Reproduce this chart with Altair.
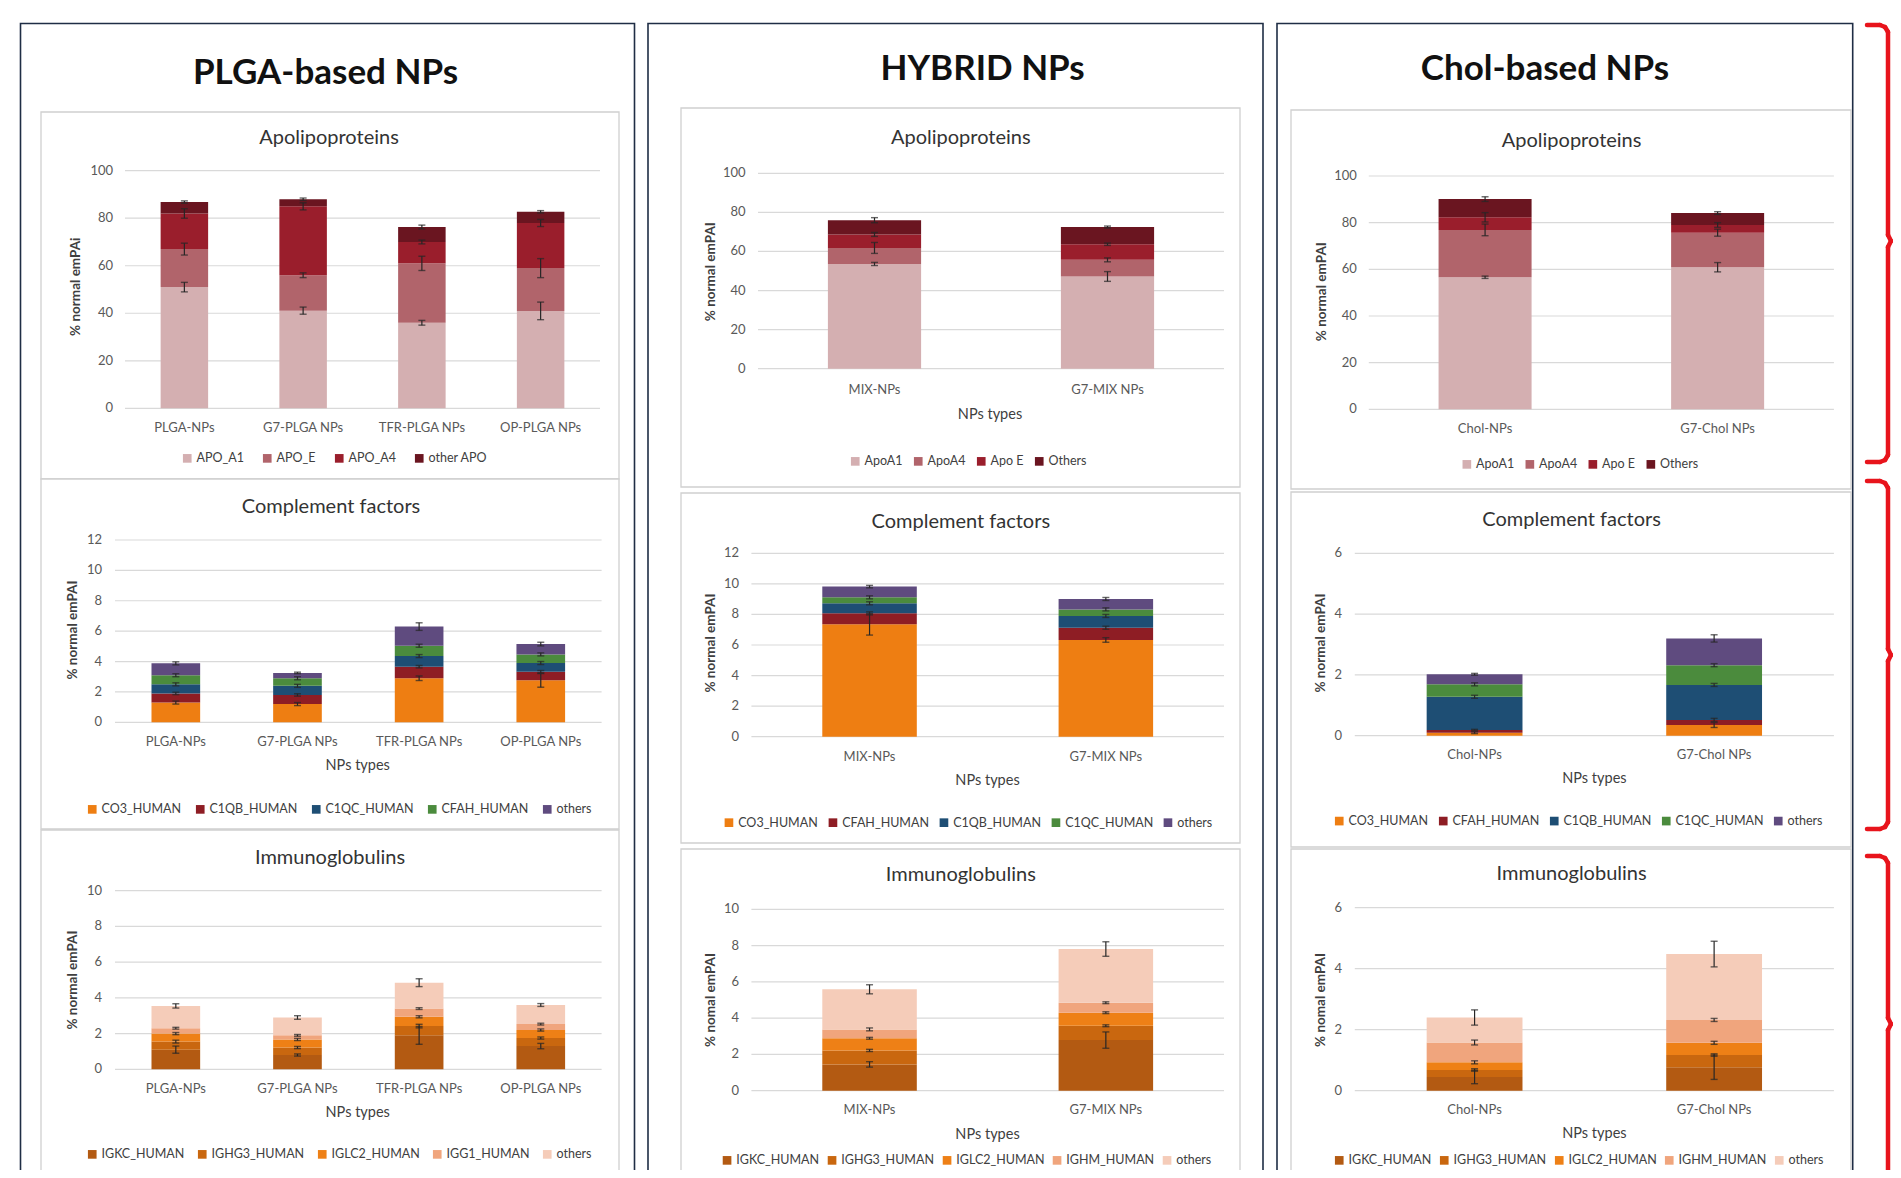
import altair as alt
import pandas as pd

# ---------------- data ----------------
PLGA_CATS = ["PLGA-NPs", "G7-PLGA NPs", "TFR-PLGA NPs", "OP-PLGA NPs"]
HYB_CATS = ["MIX-NPs", "G7-MIX NPs"]
CHOL_CATS = ["Chol-NPs", "G7-Chol NPs"]

PLGA_APO_SERIES = ["APO_A1", "APO_E", "APO_A4", "other APO"]
PLGA_APO_VALUES = [[51.0, 41.1, 36.0, 41.0], [16.0, 14.9, 25.0, 18.0], [15.0, 29.0, 9.0, 19.0], [4.8, 3.0, 6.3, 4.7]]
PLGA_APO_ERRORS = [[2.0, 1.5, 1.0, 3.7], [2.5, 1.0, 3.0, 4.0], [2.0, 1.5, 0.8, 1.5], [0.5, 0.5, 0.8, 0.5]]

PLGA_COMP_SERIES = ["CO3_HUMAN", "C1QB_HUMAN", "C1QC_HUMAN", "CFAH_HUMAN", "others"]
PLGA_COMP_VALUES = [[1.3, 1.2, 2.9, 2.76], [0.6, 0.6, 0.76, 0.57], [0.6, 0.6, 0.7, 0.57], [0.6, 0.5, 0.68, 0.57], [0.78, 0.35, 1.26, 0.68]]
PLGA_COMP_ERRORS = [[0.1, 0.1, 0.15, 0.45], [0.08, 0.08, 0.08, 0.08], [0.1, 0.1, 0.1, 0.1], [0.1, 0.1, 0.1, 0.1], [0.1, 0.05, 0.25, 0.12]]

PLGA_IMM_SERIES = ["IGKC_HUMAN", "IGHG3_HUMAN", "IGLC2_HUMAN", "IGG1_HUMAN", "others"]
PLGA_IMM_VALUES = [[1.1, 0.8, 1.9, 1.3], [0.45, 0.42, 0.52, 0.45], [0.45, 0.45, 0.52, 0.45], [0.3, 0.23, 0.46, 0.33], [1.25, 1.0, 1.45, 1.07]]
PLGA_IMM_ERRORS = [[0.2, 0.06, 0.5, 0.15], [0.08, 0.06, 0.1, 0.06], [0.06, 0.06, 0.06, 0.06], [0.05, 0.05, 0.05, 0.05], [0.12, 0.1, 0.22, 0.08]]

HYB_APO_SERIES = ["ApoA1", "ApoA4", "Apo E", "Others"]
HYB_APO_VALUES = [[53.6, 47.2], [8.2, 8.5], [6.9, 8.0], [7.3, 8.8]]
HYB_APO_ERRORS = [[0.8, 2.5], [2.8, 1.0], [1.0, 0.6], [1.3, 0.5]]

HYB_COMP_SERIES = ["CO3_HUMAN", "CFAH_HUMAN", "C1QB_HUMAN", "C1QC_HUMAN", "others"]
HYB_COMP_VALUES = [[7.35, 6.33], [0.72, 0.8], [0.66, 0.77], [0.39, 0.43], [0.7, 0.68]]
HYB_COMP_ERRORS = [[0.7, 0.15], [0.1, 0.1], [0.1, 0.1], [0.1, 0.1], [0.08, 0.1]]

HYB_IMM_SERIES = ["IGKC_HUMAN", "IGHG3_HUMAN", "IGLC2_HUMAN", "IGHM_HUMAN", "others"]
HYB_IMM_VALUES = [[1.45, 2.79], [0.77, 0.79], [0.67, 0.72], [0.49, 0.55], [2.21, 2.96]]
HYB_IMM_ERRORS = [[0.15, 0.45], [0.06, 0.05], [0.05, 0.05], [0.08, 0.05], [0.25, 0.4]]

CHOL_APO_SERIES = ["ApoA1", "ApoA4", "Apo E", "Others"]
CHOL_APO_VALUES = [[56.6, 60.9], [20.3, 14.8], [5.4, 3.3], [7.8, 5.1]]
CHOL_APO_ERRORS = [[0.5, 2.0], [2.5, 1.5], [2.0, 1.0], [1.0, 0.6]]

CHOL_COMP_SERIES = ["CO3_HUMAN", "CFAH_HUMAN", "C1QB_HUMAN", "C1QC_HUMAN", "others"]
CHOL_COMP_VALUES = [[0.1, 0.35], [0.09, 0.17], [1.09, 1.15], [0.41, 0.65], [0.33, 0.88]]
CHOL_COMP_ERRORS = [[0.03, 0.08], [0.02, 0.05], [0.05, 0.05], [0.05, 0.05], [0.03, 0.12]]

CHOL_IMM_SERIES = ["IGKC_HUMAN", "IGHG3_HUMAN", "IGLC2_HUMAN", "IGHM_HUMAN", "others"]
CHOL_IMM_VALUES = [[0.45, 0.77], [0.23, 0.4], [0.25, 0.4], [0.65, 0.75], [0.82, 2.16]]
CHOL_IMM_ERRORS = [[0.22, 0.4], [0.04, 0.04], [0.05, 0.05], [0.08, 0.05], [0.25, 0.42]]

COLUMN_TITLES = ["PLGA-based NPs", "HYBRID NPs", "Chol-based NPs"]

# ---------------- styles ----------------
APO_COLORS = ["#D4AFB1", "#B1646B", "#9A1E2C", "#6A1520"]
COMP_COLORS = ["#EE7E12", "#8E1D24", "#1E4E74", "#4B8B3D", "#5F4B7F"]
IMM_COLORS = ["#B35A12", "#C9670F", "#EE8016", "#F0A57D", "#F5CCB9"]
FONT = "Lato"
GRID = "#D9D9D9"
TICK = "#595959"
DARK = "#333333"
ERR = "#262626"
BOX = "#D0D0D0"
COLBORDER = "#1F2D45"
RED = "#E8141C"


def P(v):
    return v - 8


def segments(cats, series, values, errors):
    rows = []
    for ci, c in enumerate(cats):
        base = 0.0
        for si, s in enumerate(series):
            v = values[si][ci]
            e = errors[si][ci]
            top = base + v
            rows.append(dict(cat=c, series=s, idx=si, base=base, top=top, lo=top - e, hi=top + e))
            base = top
    return pd.DataFrame(rows)


ONE = pd.DataFrame({"a": [0]})


def text_layer(txt, x, y, size, weight="normal", color=DARK, angle=0, align="center", baseline="middle"):
    return alt.Chart(ONE).mark_text(font=FONT, fontSize=size, fontWeight=weight, color=color,
                                    angle=angle, align=align, baseline=baseline).encode(
        x=alt.value(P(x)), y=alt.value(P(y)), text=alt.value(txt))


def rect_layer(x0, y0, x1, y1, stroke, sw, fill="white"):
    return alt.Chart(ONE).mark_rect(fill=fill, stroke=stroke, strokeWidth=sw).encode(
        x=alt.value(P(x0)), x2=alt.value(P(x1)), y=alt.value(P(y0)), y2=alt.value(P(y1)))


def seg_layer(x0, y0, x1, y1):
    return alt.Chart(ONE).mark_rule(color=RED, strokeWidth=4.5, strokeCap="round").encode(
        x=alt.value(P(x0)), x2=alt.value(P(x1)), y=alt.value(P(y0)), y2=alt.value(P(y1)))


def panel(cats, series, values, errors, colors, ymax, ystep, g, title, ytitle, xtitle, pad):
    seg = segments(cats, series, values, errors)
    caps = pd.concat([seg.assign(c=seg["lo"]), seg.assign(c=seg["hi"])], ignore_index=True)
    ticks = pd.DataFrame({"v": list(range(0, ymax + 1, ystep))})
    ticks["lab"] = ticks["v"].astype(str)
    cats_df = pd.DataFrame({"cat": cats})
    xs = alt.Scale(domain=cats, range=[P(g["x0"]), P(g["x1"])], paddingInner=0.6, paddingOuter=0.3)
    ys = alt.Scale(domain=[0, ymax], range=[P(g["yb"]), P(g["yt"])], nice=False)
    X = alt.X("cat:N", scale=xs, axis=None)

    def Y(f):
        return alt.Y(f, scale=ys, axis=None)

    layers = [
        alt.Chart(ticks).mark_rule(color=GRID, strokeWidth=1.2).encode(
            y=Y("v:Q"), x=alt.value(P(g["x0"])), x2=alt.value(P(g["x1"]))),
        alt.Chart(ticks).mark_text(align="right", baseline="middle", font=FONT, fontSize=13, color=TICK).encode(
            y=Y("v:Q"), x=alt.value(P(g["tx"])), text="lab:N"),
        alt.Chart(seg).mark_bar().encode(
            x=X, y=Y("top:Q"), y2="base:Q",
            color=alt.Color("series:N", scale=alt.Scale(domain=series, range=colors), title=None,
                            legend=alt.Legend(orient="none", legendX=P(g["lx"]), legendY=P(g["ly"]) - 7,
                                              direction="horizontal", labelFont=FONT, labelFontSize=12.5,
                                              labelColor="#404040", symbolType="square", symbolSize=75,
                                              symbolStrokeWidth=0, columnPadding=pad, labelOffset=3,
                                              padding=0))),
        alt.Chart(seg).mark_rule(color=ERR, strokeWidth=1.2).encode(x=X, y=Y("lo:Q"), y2="hi:Q"),
        alt.Chart(caps).mark_tick(color=ERR, thickness=1.4, size=7).encode(x=X, y=Y("c:Q")),
        alt.Chart(cats_df).mark_text(baseline="middle", font=FONT, fontSize=13, color=TICK).encode(
            x=X, y=alt.value(P(g["xly"])), text="cat:N"),
        text_layer(title, g["title"][0], g["title"][1], 20, color=DARK),
        text_layer(ytitle, g["at"][0], g["at"][1], 13.5, weight="bold", color="#404040", angle=270),
    ]
    if xtitle:
        layers.append(text_layer(xtitle, g["npt"][0], g["npt"][1], 14.5, color="#404040"))
    return alt.layer(*layers)


GEO = {
    "c1_apo": dict(x0=125, x1=600, yb=408.3, yt=170.7, tx=113, title=(329, 138.3), at=(76.4, 286.7), xly=428, npt=None, ly=459, lx=181),
    "c1_comp": dict(x0=115, x1=601.6, yb=722.3, yt=540, tx=102, title=(331, 506.7), at=(73, 630), xly=742, npt=(357.7, 766), ly=810, lx=86),
    "c1_imm": dict(x0=115, x1=601.6, yb=1069.3, yt=890.7, tx=102, title=(330, 858), at=(73, 980), xly=1089, npt=(357.7, 1112.7), ly=1155, lx=86),
    "c2_apo": dict(x0=758, x1=1224, yb=368.7, yt=173.3, tx=745.5, title=(960.8, 138.3), at=(711, 271.7), xly=390, npt=(990, 415), ly=462, lx=849),
    "c2_comp": dict(x0=751.4, x1=1224, yb=736.7, yt=553.3, tx=739, title=(960.8, 521.7), at=(711, 643), xly=756.7, npt=(987.5, 780.7), ly=823.3, lx=722.7),
    "c2_imm": dict(x0=751.4, x1=1224, yb=1090.7, yt=909.3, tx=739, title=(960.8, 875), at=(711, 1000), xly=1110, npt=(987.5, 1135), ly=1161, lx=720.8),
    "c3_apo": dict(x0=1368.8, x1=1833.9, yb=409.3, yt=176, tx=1356.8, title=(1571.6, 140.7), at=(1322, 291.7), xly=429.3, npt=None, ly=465, lx=1460.6),
    "c3_comp": dict(x0=1354.8, x1=1833.9, yb=735.7, yt=553.3, tx=1342, title=(1571.6, 520), at=(1321, 643), xly=755, npt=(1594.4, 779), ly=821.7, lx=1333),
    "c3_imm": dict(x0=1354.8, x1=1833.9, yb=1090.7, yt=907.7, tx=1342, title=(1571.6, 874), at=(1321, 1000), xly=1110, npt=(1594.4, 1134.3), ly=1161, lx=1333),
}

layers = []
# column frames
for (x0, x1) in [(20.5, 634.5), (648, 1263), (1277, 1852.7)]:
    layers.append(rect_layer(x0, 23.5, x1, 1220, COLBORDER, 1.6))
# inner boxes
for (x0, x1, boxes) in [
    (41, 619, [(112, 479), (479, 829), (830, 1220)]),
    (681, 1240, [(108, 487), (493, 843), (849, 1220)]),
    (1291, 1851, [(110, 489), (492, 847), (849, 1220)]),
]:
    for (y0, y1) in boxes:
        layers.append(rect_layer(x0, y0, x1, y1, BOX, 1.3))
# column titles
layers.append(text_layer(COLUMN_TITLES[0], 325.5, 73, 35, weight="bold", color="#111111"))
layers.append(text_layer(COLUMN_TITLES[1], 982.6, 69, 35, weight="bold", color="#111111"))
layers.append(text_layer(COLUMN_TITLES[2], 1545, 69, 35, weight="bold", color="#111111"))

# panels
layers.append(panel(PLGA_CATS, PLGA_APO_SERIES, PLGA_APO_VALUES, PLGA_APO_ERRORS, APO_COLORS, 100, 20, GEO["c1_apo"], "Apolipoproteins", "% normal emPAi", None, 17))
layers.append(panel(PLGA_CATS, PLGA_COMP_SERIES, PLGA_COMP_VALUES, PLGA_COMP_ERRORS, COMP_COLORS, 12, 2, GEO["c1_comp"], "Complement factors", "% normal emPAI", "NPs types", 12))
layers.append(panel(PLGA_CATS, PLGA_IMM_SERIES, PLGA_IMM_VALUES, PLGA_IMM_ERRORS, IMM_COLORS, 10, 2, GEO["c1_imm"], "Immunoglobulins", "% normal emPAI", "NPs types", 11))
layers.append(panel(HYB_CATS, HYB_APO_SERIES, HYB_APO_VALUES, HYB_APO_ERRORS, APO_COLORS, 100, 20, GEO["c2_apo"], "Apolipoproteins", "% normal emPAI", "NPs types", 9))
layers.append(panel(HYB_CATS, HYB_COMP_SERIES, HYB_COMP_VALUES, HYB_COMP_ERRORS, COMP_COLORS, 12, 2, GEO["c2_comp"], "Complement factors", "% normal emPAI", "NPs types", 8))
layers.append(panel(HYB_CATS, HYB_IMM_SERIES, HYB_IMM_VALUES, HYB_IMM_ERRORS, IMM_COLORS, 10, 2, GEO["c2_imm"], "Immunoglobulins", "% nomal emPAI", "NPs types", 6))
layers.append(panel(CHOL_CATS, CHOL_APO_SERIES, CHOL_APO_VALUES, CHOL_APO_ERRORS, APO_COLORS, 100, 20, GEO["c3_apo"], "Apolipoproteins", "% normal emPAI", None, 9))
layers.append(panel(CHOL_CATS, CHOL_COMP_SERIES, CHOL_COMP_VALUES, CHOL_COMP_ERRORS, COMP_COLORS, 6, 2, GEO["c3_comp"], "Complement factors", "% normal emPAI", "NPs types", 8))
layers.append(panel(CHOL_CATS, CHOL_IMM_SERIES, CHOL_IMM_VALUES, CHOL_IMM_ERRORS, IMM_COLORS, 6, 2, GEO["c3_imm"], "Immunoglobulins", "% nomal emPAI", "NPs types", 6))

# red braces on the right
VX = 1888
for (top, mid, bot) in [(25, 241, 462), (481, 655, 829), (856, 1024, 1230)]:
    for s in [
        (1867, top, 1880, top), (1880, top, 1885, top + 2), (1885, top + 2, VX, top + 7),
        (VX, top + 7, VX, mid - 6), (VX, mid - 6, 1891, mid), (1891, mid, VX, mid + 6),
        (VX, mid + 6, VX, bot - 7), (VX, bot - 7, 1885, bot - 2), (1885, bot - 2, 1880, bot),
        (1880, bot, 1867, bot),
    ]:
        layers.append(seg_layer(*s))

chart = alt.layer(*layers).resolve_scale(
    x="independent", y="independent", color="independent"
).properties(
    width=1885, height=1162, padding=0,
    autosize=alt.AutoSizeParams(type="none"), background="white",
).configure_view(stroke=None)

chart.save("out.html", embed_options={"renderer": "svg", "actions": False})
